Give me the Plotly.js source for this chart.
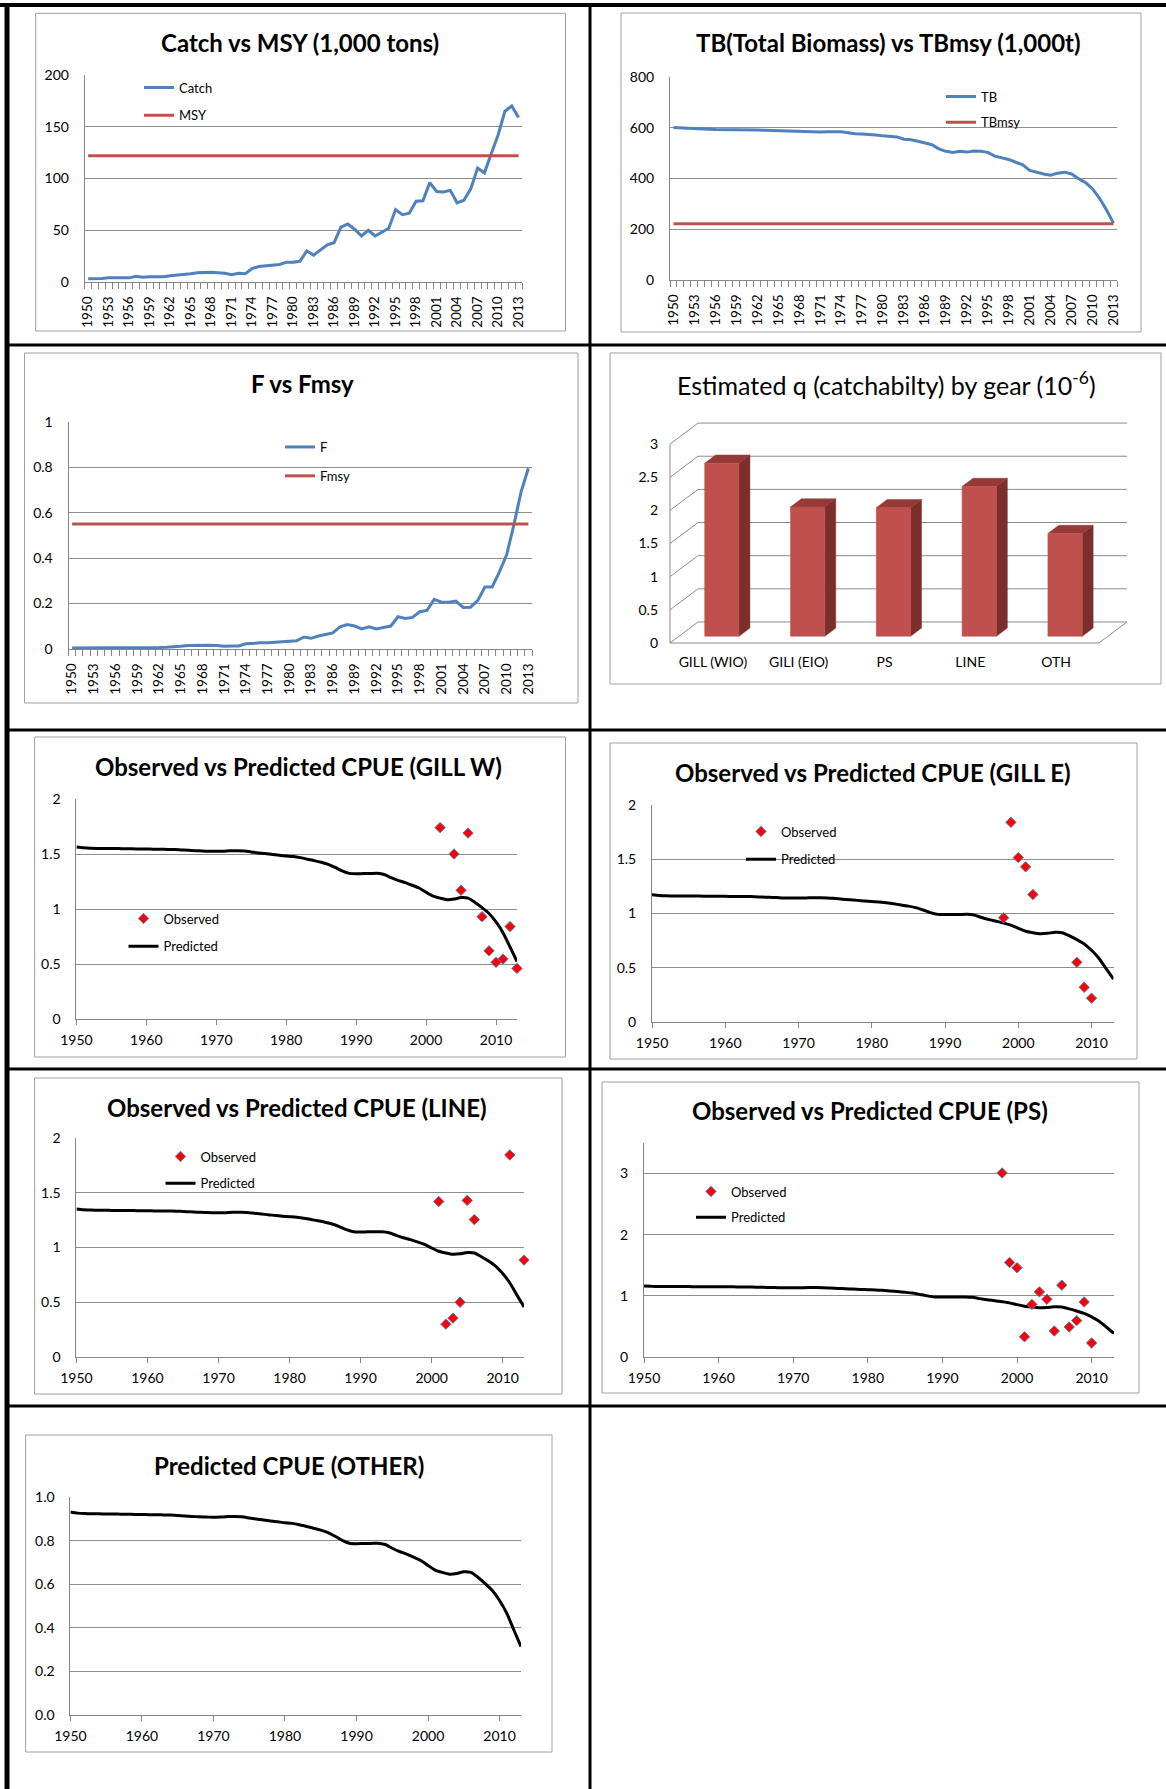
<!DOCTYPE html>
<html><head><meta charset="utf-8">
<script src="https://cdn.plot.ly/plotly-3.0.1.min.js"></script>
<style>html,body{margin:0;padding:0;background:#fff;}#chart{width:1166px;height:1789px;}</style>
</head><body><div id="chart"></div>
<script>
const W = 1166, H = 1789;

// ---------------- DATA ----------------
const years = [1950,1951,1952,1953,1954,1955,1956,1957,1958,1959,
  1960,1961,1962,1963,1964,1965,1966,1967,1968,1969,
  1970,1971,1972,1973,1974,1975,1976,1977,1978,1979,
  1980,1981,1982,1983,1984,1985,1986,1987,1988,1989,
  1990,1991,1992,1993,1994,1995,1996,1997,1998,1999,
  2000,2001,2002,2003,2004,2005,2006,2007,2008,2009,
  2010,2011,2012,2013];

const catchVals = [3.2,3,3.5,4,4,4,4,5.5,4.5,5,
  5,5,6,6.5,7.5,8,9,9.5,9.5,9,
  8.5,7,8.5,8,13,15,15.5,16,17,19,
  19,20,30,26,31,36,38,53,56,51,
  44.5,50,44.5,48,52,70,65,66.5,78,78.5,
  96,87.5,87,88.5,76.5,79,90,110,105.5,124,
  142,165,170,159];
const msy = 122;

const tbVals = [601,599,597,596,595,594,593,593,592,592,
  591,591,591,590,589,588,587,585,584,584,
  583,583,584,584,584,580,576,575,574,571,
  568,567,564,555,553,547,539,533,517,507,
  503,507,504,508,507,503,488,482,475,464,
  454,432,424,418,413,421,425,418,399,384,
  359,322,276,224];
const tbmsy = 222;

const fVals = [0.004,0.004,0.005,0.005,0.005,0.005,0.005,0.006,0.006,0.006,
  0.006,0.006,0.007,0.008,0.009,0.012,0.015,0.016,0.016,0.016,
  0.015,0.012,0.013,0.013,0.023,0.026,0.027,0.028,0.030,0.034,
  0.035,0.036,0.053,0.047,0.057,0.065,0.071,0.098,0.108,0.101,
  0.088,0.098,0.088,0.095,0.101,0.142,0.134,0.139,0.164,0.170,
  0.218,0.206,0.206,0.211,0.183,0.184,0.213,0.273,0.273,0.339,
  0.414,0.546,0.692,0.795];
const fmsy = 0.55;

const gearCats = ['GILL (WIO)','GILI (EIO)','PS','LINE','OTH'];
const gearQ = [2.61,1.95,1.94,2.26,1.55];
const qTicks = [0,0.5,1,1.5,2,2.5,3];

const predGillW = [1.564,1.556,1.552,1.551,1.551,1.549,1.549,1.547,1.547,1.546,
  1.546,1.544,1.544,1.542,1.541,1.537,1.534,1.530,1.527,1.525,
  1.524,1.525,1.529,1.529,1.527,1.519,1.510,1.504,1.495,1.488,
  1.482,1.477,1.467,1.453,1.440,1.425,1.406,1.378,1.346,1.324,
  1.320,1.322,1.322,1.324,1.314,1.285,1.260,1.240,1.216,1.191,
  1.152,1.117,1.099,1.085,1.090,1.104,1.099,1.060,1.013,0.959,
  0.882,0.785,0.655,0.522];
const obsGillWYears = [2002,2004,2005,2006,2008,2009,2010,2011,2012,2013];
const obsGillW = [1.74,1.50,1.17,1.69,0.93,0.62,0.515,0.545,0.84,0.46];

const predGillE = [1.172,1.166,1.163,1.162,1.162,1.161,1.161,1.160,1.160,1.158,
  1.158,1.157,1.157,1.156,1.155,1.152,1.149,1.147,1.144,1.143,
  1.142,1.143,1.146,1.146,1.144,1.138,1.132,1.127,1.121,1.115,
  1.110,1.107,1.099,1.089,1.079,1.068,1.054,1.032,1.008,0.992,
  0.990,0.991,0.991,0.992,0.985,0.963,0.944,0.929,0.912,0.893,
  0.864,0.837,0.823,0.813,0.817,0.827,0.823,0.794,0.759,0.719,
  0.661,0.588,0.491,0.395];
const obsGillEYears = [1998,1999,2000,2001,2002,2008,2009,2010];
const obsGillE = [0.96,1.84,1.515,1.43,1.175,0.55,0.32,0.22];

const predLine = [1.352,1.345,1.342,1.340,1.340,1.339,1.339,1.337,1.337,1.336,
  1.336,1.334,1.334,1.333,1.332,1.329,1.326,1.323,1.320,1.318,
  1.317,1.318,1.321,1.321,1.320,1.313,1.305,1.300,1.292,1.286,
  1.281,1.276,1.268,1.256,1.244,1.231,1.215,1.191,1.163,1.144,
  1.141,1.143,1.143,1.144,1.135,1.111,1.089,1.072,1.051,1.029,
  0.996,0.966,0.950,0.938,0.942,0.954,0.950,0.916,0.876,0.829,
  0.762,0.678,0.566,0.456];
const obsLineYears = [2001,2002,2003,2004,2005,2006,2011,2013];
const obsLine = [1.42,0.30,0.355,0.50,1.43,1.255,1.845,0.885];

const predPS = [1.162,1.156,1.153,1.152,1.152,1.151,1.151,1.149,1.149,1.148,
  1.148,1.147,1.147,1.146,1.144,1.142,1.139,1.137,1.134,1.133,
  1.132,1.133,1.136,1.136,1.134,1.128,1.122,1.117,1.111,1.106,
  1.101,1.097,1.090,1.080,1.070,1.058,1.045,1.023,1.000,0.983,
  0.981,0.982,0.982,0.983,0.976,0.955,0.936,0.921,0.904,0.885,
  0.856,0.830,0.816,0.806,0.810,0.820,0.816,0.787,0.753,0.713,
  0.655,0.583,0.487,0.385];
const obsPSYears = [1998,1999,2000,2001,2002,2003,2004,2005,2006,2007,2008,2009,2010];
const obsPS = [3.01,1.545,1.46,0.33,0.86,1.065,0.945,0.425,1.175,0.49,0.595,0.90,0.23];

const predOther = [0.931,0.926,0.924,0.923,0.923,0.922,0.922,0.921,0.921,0.920,
  0.920,0.919,0.919,0.918,0.917,0.915,0.913,0.911,0.909,0.908,
  0.907,0.908,0.910,0.910,0.909,0.904,0.899,0.895,0.890,0.886,
  0.882,0.879,0.873,0.865,0.857,0.848,0.837,0.820,0.801,0.788,
  0.786,0.787,0.787,0.788,0.782,0.765,0.750,0.738,0.724,0.709,
  0.686,0.665,0.654,0.646,0.649,0.657,0.654,0.631,0.603,0.571,
  0.525,0.467,0.390,0.314];

// ---------------- STYLE ----------------
const FONT = 'Lato, "Open Sans", sans-serif';
const BLUE = '#4F81BD', RED = '#C0504D', GRID = '#8e8e8e', AXL = '#868686';
const TICKSIZE = 14;
const fx = (a, b) => [a / W, b / W];
const fy = (top, bottom) => [1 - bottom / H, 1 - top / H];
const firstYear = years[0], lastYear = years[years.length - 1];

function ax(o) {
  return Object.assign({showgrid:false, zeroline:false, showline:true, linecolor:AXL, linewidth:1,
    ticks:'', tickfont:{family:FONT, size:TICKSIZE, color:'#000'}, automargin:false, fixedrange:true}, o);
}
function catX(domain, anchor) {
  return ax({domain, anchor, range:[firstYear-0.5, lastYear+0.5], tickmode:'linear', tick0:firstYear, dtick:3,
    tickangle:-90, ticklabelstandoff:8, tickfont:{family:FONT, size:13.5, color:'#000'},
    minor:{tick0:firstYear-0.5, dtick:1, ticks:'outside', ticklen:6, tickcolor:AXL, tickwidth:1, showgrid:false}});
}
function numX(domain, anchor) {
  return ax({domain, anchor, range:[firstYear, lastYear], tickmode:'linear', tick0:firstYear, dtick:10,
    ticks:'outside', ticklen:5, tickcolor:AXL, ticklabelstandoff:3});
}
function valY(domain, anchor, range, dtick, extra) {
  return ax(Object.assign({domain, anchor, range, tickmode:'linear', tick0:0, dtick,
    showgrid:true, gridcolor:GRID, gridwidth:1, ticklabelstandoff:12}, extra || {}));
}

const traces = [];
// Panel 1
traces.push({x:years, y:catchVals, xaxis:'x', yaxis:'y', mode:'lines', name:'Catch',
  line:{color:BLUE, width:3}, legend:'legend', legendgroup:'c1'});
traces.push({x:[firstYear, lastYear], y:[msy, msy], xaxis:'x', yaxis:'y', mode:'lines', name:'MSY',
  line:{color:RED, width:3}, legend:'legend', legendgroup:'c2'});
// Panel 2
traces.push({x:years, y:tbVals, xaxis:'x2', yaxis:'y2', mode:'lines', name:'TB',
  line:{color:BLUE, width:3}, legend:'legend2', legendgroup:'t1'});
traces.push({x:[firstYear, lastYear], y:[tbmsy, tbmsy], xaxis:'x2', yaxis:'y2', mode:'lines', name:'TBmsy',
  line:{color:RED, width:3}, legend:'legend2', legendgroup:'t2'});
// Panel 3
traces.push({x:years, y:fVals, xaxis:'x3', yaxis:'y3', mode:'lines', name:'F',
  line:{color:BLUE, width:3}, legend:'legend3', legendgroup:'f1'});
traces.push({x:[firstYear, lastYear], y:[fmsy, fmsy], xaxis:'x3', yaxis:'y3', mode:'lines', name:'Fmsy',
  line:{color:RED, width:3}, legend:'legend3', legendgroup:'f2'});

// Panel 4 : pseudo-3D column chart
const DX = 0.326, DY = 0.317, F1 = 0.32, F2 = 0.71, HW = 0.2;
const nCat = gearCats.length, qMax = qTicks[qTicks.length - 1];
const wallX = [], wallY = [], sideX = [], sideY = [];
qTicks.forEach(g => {
  wallX.push(DX, nCat + DX, null); wallY.push(g + DY, g + DY, null);
  sideX.push(0, DX, null); sideY.push(g, g + DY, null);
});
const wallStyle = {color:'#8c8c8c', width:1};
traces.push({x:wallX, y:wallY, xaxis:'x4', yaxis:'y4', mode:'lines', line:wallStyle, showlegend:false, hoverinfo:'skip'});
traces.push({x:sideX, y:sideY, xaxis:'x4', yaxis:'y4', mode:'lines', line:wallStyle, showlegend:false, hoverinfo:'skip'});
traces.push({x:[0, 0, null, 0, nCat, nCat + DX], y:[0, qMax, null, 0, 0, DY], xaxis:'x4', yaxis:'y4',
  mode:'lines', line:wallStyle, showlegend:false, hoverinfo:'skip'});
gearQ.forEach((v, i) => {
  const c = i + 0.5;
  const l1 = c - HW + F1 * DX, r1 = c + HW + F1 * DX, l2 = c - HW + F2 * DX, r2 = c + HW + F2 * DX;
  const b1 = F1 * DY, b2 = F2 * DY;
  traces.push({x:[r1, r2, r2, r1, r1], y:[b1, b2, v + b2, v + b1, b1], xaxis:'x4', yaxis:'y4',
    mode:'lines', fill:'toself', fillcolor:'#7B2E2C', line:{color:'#7B2E2C', width:0.5}, showlegend:false, hoverinfo:'skip'});
  traces.push({x:[l1, r1, r2, l2, l1], y:[v + b1, v + b1, v + b2, v + b2, v + b1], xaxis:'x4', yaxis:'y4',
    mode:'lines', fill:'toself', fillcolor:'#973A37', line:{color:'#973A37', width:0.5}, showlegend:false, hoverinfo:'skip'});
  traces.push({x:[l1, r1, r1, l1, l1], y:[b1, b1, v + b1, v + b1, b1], xaxis:'x4', yaxis:'y4',
    mode:'lines', fill:'toself', fillcolor:RED, line:{color:RED, width:0.5}, showlegend:false, hoverinfo:'skip'});
});

// CPUE panels
function cpue(xa, ya, pred, oy, ov, lg) {
  traces.push({x:years, y:pred, xaxis:xa, yaxis:ya, mode:'lines', name:'Predicted',
    line:{color:'#000', width:3, shape:'spline', smoothing:0.6}, legend:lg || 'legend', legendgroup:'p', legendrank:2,
    showlegend: !!lg, cliponaxis:false});
  if (oy) traces.push({x:oy, y:ov, xaxis:xa, yaxis:ya, mode:'markers', name:'Observed', cliponaxis:false,
    marker:{symbol:'diamond', size:8, color:'#FF0000', line:{color:BLUE, width:1}},
    legend:lg, legendgroup:'o', legendrank:1});
}
cpue('x5', 'y5', predGillW, obsGillWYears, obsGillW, 'legend4');
cpue('x6', 'y6', predGillE, obsGillEYears, obsGillE, 'legend5');
cpue('x7', 'y7', predLine, obsLineYears, obsLine, 'legend6');
cpue('x8', 'y8', predPS, obsPSYears, obsPS, 'legend7');
cpue('x9', 'y9', predOther, null, null, null);

// ---------------- LAYOUT ----------------
function lg(xpx, ypx, gap) {
  return {x:xpx / W, y:1 - ypx / H, xanchor:'left', yanchor:'top', bgcolor:'rgba(0,0,0,0)', borderwidth:0,
    font:{family:FONT, size:13, color:'#000'}, traceorder:'grouped', tracegroupgap:gap, itemwidth:30};
}
function title(xpx, ypx, text, bold, size) {
  return {xref:'paper', yref:'paper', x:xpx / W, y:1 - ypx / H, xanchor:'center', yanchor:'middle',
    showarrow:false, text: bold ? '<b>' + text + '</b>' : text,
    font:{family:FONT, size:size || 24, color:'#000'}};
}
function box(x0, y0, x1, y1) {
  return {type:'rect', xref:'paper', yref:'paper', x0:x0 / W, x1:x1 / W, y0:1 - y0 / H, y1:1 - y1 / H,
    line:{color:'#a0a0a0', width:1}, fillcolor:'rgba(0,0,0,0)', layer:'below'};
}
function rule(x0, y0, x1, y1, w) {
  return {type:'line', xref:'paper', yref:'paper', x0:x0 / W, x1:x1 / W, y0:1 - y0 / H, y1:1 - y1 / H,
    line:{color:'#000', width:w}, layer:'above'};
}

const layout = {
  width:W, height:H, margin:{l:0, r:0, t:0, b:0}, paper_bgcolor:'#fff', plot_bgcolor:'rgba(0,0,0,0)',
  font:{family:FONT, color:'#000'}, hovermode:false,
  xaxis: catX(fx(84.7, 522), 'y'),
  yaxis: valY(fy(75, 282), 'x', [0, 200], 50),
  xaxis2: catX(fx(670, 1117), 'y2'),
  yaxis2: valY(fy(77, 280), 'x2', [0, 800], 200),
  xaxis3: catX(fx(68.5, 532), 'y3'),
  yaxis3: valY(fy(421.7, 649), 'x3', [0, 1], 0.2),
  xaxis4: ax({domain:fx(640, 1140), anchor:'y4', range:[(640 - 670) / 85.8, (1140 - 670) / 85.8],
    showline:false, tickmode:'array', tickvals:gearCats.map((c, i) => i + 0.5), ticktext:gearCats, ticklabelstandoff:2}),
  yaxis4: ax({domain:fy(410, 650), anchor:'free', position:670 / W, range:[(643 - 650) / 66.3, (643 - 410) / 66.3],
    showline:false, tickmode:'array', tickvals:qTicks, ticklabelstandoff:12}),
  xaxis5: numX(fx(76.4, 517), 'y5'),
  yaxis5: valY(fy(799, 1019), 'x5', [0, 2], 0.5),
  xaxis6: numX(fx(652, 1113.5), 'y6'),
  yaxis6: valY(fy(805, 1022), 'x6', [0, 2], 0.5),
  xaxis7: numX(fx(76.4, 524), 'y7'),
  yaxis7: valY(fy(1138, 1357), 'x7', [0, 2], 0.5),
  xaxis8: numX(fx(644, 1114), 'y8'),
  yaxis8: valY(fy(1143, 1357), 'x8', [0, 3.5], 1),
  xaxis9: numX(fx(70.4, 521), 'y9'),
  yaxis9: valY(fy(1497, 1715), 'x9', [0, 1], 0.2, {tickformat:'.1f'}),
  legend: lg(139, 72.5, 8),
  legend2: lg(941, 81.5, 6),
  legend3: lg(280, 432, 9),
  legend4: lg(123.5, 903.5, 8),
  legend5: lg(741, 816.5, 8),
  legend6: lg(160.5, 1141.5, 7),
  legend7: lg(691, 1176.5, 6),
  annotations: [
    title(300, 42, 'Catch vs MSY (1,000 tons)', true),
    title(888, 42, 'TB(Total Biomass) vs TBmsy (1,000t)', true),
    title(302, 384, 'F vs Fmsy', true),
    title(886, 384, 'Estimated q (catchabilty) by gear (10<sup>-6</sup>)', false, 25),
    title(299, 766, 'Observed vs Predicted CPUE (GILL W)', true),
    title(873, 772, 'Observed vs Predicted CPUE (GILL E)', true),
    title(297, 1107, 'Observed vs Predicted CPUE (LINE)', true),
    title(870, 1110, 'Observed vs Predicted CPUE (PS)', true),
    title(289, 1465, 'Predicted CPUE (OTHER)', true)
  ],
  shapes: [
    box(35.7, 13.3, 565.5, 331), box(621, 13, 1141, 332),
    box(24.5, 353, 578, 703), box(610, 353, 1161, 684),
    box(34.6, 737, 565.5, 1057), box(610, 743, 1137, 1059),
    box(34.6, 1078, 562, 1394), box(602, 1082, 1139, 1393),
    box(25.6, 1435, 552, 1752),
    rule(0, 5, W, 5, 4), rule(7, 3, 7, H, 5), rule(590, 3, 590, H, 3),
    rule(7, 345, W, 345, 3), rule(7, 730, W, 730, 3), rule(7, 1069, W, 1069, 3), rule(7, 1406, W, 1406, 3)
  ]
};

Plotly.newPlot('chart', traces, layout, {displayModeBar:false, staticPlot:true});
</script>
</body></html>
